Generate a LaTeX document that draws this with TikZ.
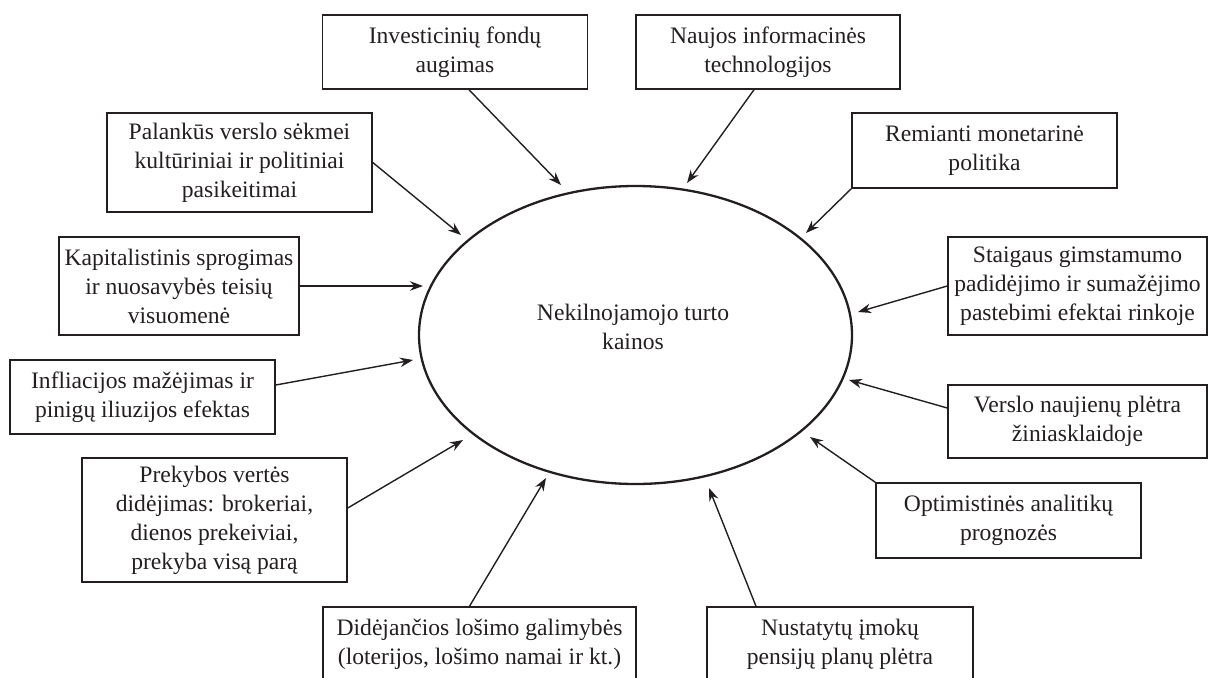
\documentclass[tikz,border=0pt]{standalone}
\usepackage{fontspec}
\setmainfont{Liberation Serif}
\usetikzlibrary{arrows.meta,shapes.geometric}
\definecolor{ink}{HTML}{231F20}
\tikzset{
  box/.style={draw=ink, line width=1.5pt, rectangle, inner sep=0pt, align=center,
    text=ink, font=\fontsize{23.6}{29}\selectfont},
  twol/.style={minimum height=74pt},
  arr/.style={draw=ink, line width=1.4pt, -{Stealth[length=13pt,width=9.5pt]}},
  oval/.style={draw=ink, line width=2.3pt, ellipse, inner sep=0pt,
    minimum width=433pt, minimum height=298pt},
  lbl/.style={text=ink, align=center, font=\fontsize{23.6}{29}\selectfont}
}
\begin{document}
\begin{tikzpicture}[x=1pt,y=-1pt]
\useasboundingbox (0,0) rectangle (1209,677);
% centre
\node[oval] (e) at (635.5,335) {};
\node[lbl] (c) at (633,327) {Nekilnojamojo turto\\kainos};
% boxes
\node[box, minimum width=265pt, twol] (b1) at (455,52) {Investicinių fondų\\augimas};
\node[box, minimum width=264pt, twol] (b2) at (768,52) {Naujos informacinės\\technologijos};
\node[box, minimum width=265pt, minimum height=99pt] (b3) at (239.5,162.5) {Palankūs verslo sėkmei\\kultūriniai ir politiniai\\pasikeitimai};
\node[box, minimum width=265pt, minimum height=75pt] (b4) at (984.5,150.5) {Remianti monetarinė\\politika};
\node[box, minimum width=240pt, minimum height=98pt] (b5) at (179,286) {Kapitalistinis sprogimas\\ir nuosavybės teisių\\visuomenė};
\node[box, minimum width=259pt, minimum height=98pt] (b6) at (1077.5,286) {Staigaus gimstamumo\\padidėjimo ir sumažėjimo\\pastebimi efektai rinkoje};
\node[box, minimum width=265pt, twol] (b7) at (142.5,397) {Infliacijos mažėjimas ir\\pinigų iliuzijos efektas};
\node[box, minimum width=259pt, minimum height=73pt] (b8) at (1077.5,421.5) {Verslo naujienų plėtra\\žiniasklaidoje};
\node[box, minimum width=265pt, minimum height=124pt] (b9) at (214.5,520) {Prekybos vertės\\didėjimas: brokeriai,\\dienos prekeiviai,\\prekyba visą parą};
\node[box, minimum width=265pt, minimum height=75pt] (b10) at (1008.5,520.5) {Optimistinės analitikų\\prognozės};
\node[box, minimum width=313pt, twol] (b11) at (479.5,644) {Didėjančios lošimo galimybės\\(loterijos, lošimo namai ir kt.)};
\node[box, minimum width=266pt, twol] (b12) at (840,644) {Nustatytų įmokų\\pensijų planų plėtra};
% arrow targets
\coordinate (t1) at (561,185);
\coordinate (t2) at (687,183);
\coordinate (t3) at (461,235);
\coordinate (t4) at (806,233);
\coordinate (t5) at (423,286);
\coordinate (t6) at (858,312);
\coordinate (t7) at (413,360);
\coordinate (t8) at (849,380);
\coordinate (t9) at (463,440);
\coordinate (t10) at (810,437);
\coordinate (t11) at (546,478);
\coordinate (t12) at (709,488);
% arrows
\draw[arr] ([xshift=14pt]b1.south) -- (t1);
\draw[arr] ([xshift=-14pt]b2.south) -- (t2);
\draw[arr] (b3.east) -- (t3);
\draw[arr] (b4.south west) -- (t4);
\draw[arr] (b5.east) -- (t5);
\draw[arr] (b6.west) -- (t6);
\draw[arr] ([yshift=12pt]b7.east) -- (t7);
\draw[arr] ([yshift=13.5pt]b8.west) -- (t8);
\draw[arr] ([yshift=12pt]b9.east) -- (t9);
\draw[arr] (b10.north west) -- (t10);
\draw[arr] ([xshift=-10pt]b11.north) -- (t11);
\draw[arr] ([xshift=-84pt]b12.north) -- (t12);
\end{tikzpicture}
\end{document}
